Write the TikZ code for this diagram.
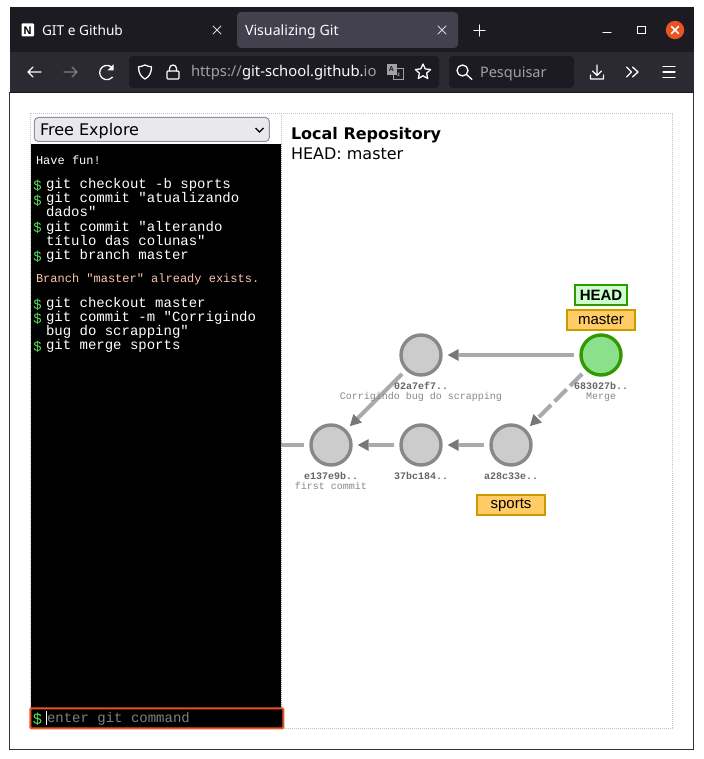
\documentclass[tikz,border=0pt]{standalone}
\usepackage{fontspec}
\setmainfont{DejaVu Sans}
\newfontfamily\uifont{Noto Sans}
\newfontfamily\lblfont{Liberation Sans}
\newfontfamily\monofont{Liberation Mono}
\usetikzlibrary{arrows.meta,shapes.geometric}
\definecolor{tabbar}{HTML}{1C1B22}
\definecolor{toolbar}{HTML}{2B2A33}
\definecolor{activetab}{HTML}{42414D}
\definecolor{uigray}{HTML}{FBFBFE}
\definecolor{urlgray}{HTML}{A0A0A6}
\definecolor{ubuntu}{HTML}{E95420}
\definecolor{selfill}{HTML}{E9E9ED}
\definecolor{selline}{HTML}{8F8F9D}
\definecolor{framedot}{HTML}{C4C4C4}
\definecolor{prompt}{HTML}{55DD55}
\definecolor{errtxt}{HTML}{FFC4B0}
\definecolor{cfill}{HTML}{CCCCCC}
\definecolor{cline}{HTML}{888888}
\definecolor{gfill}{HTML}{8CE08C}
\definecolor{gline}{HTML}{339900}
\definecolor{hfill}{HTML}{CCFFCC}
\definecolor{bfill}{HTML}{FFCC66}
\definecolor{bline}{HTML}{CC9900}
\definecolor{edgec}{HTML}{AAAAAA}
\definecolor{tipc}{HTML}{777777}
\definecolor{idc}{HTML}{666666}
\definecolor{msgc}{HTML}{888888}
\tikzset{
  txt/.style={inner sep=0pt,outer sep=0pt,anchor=base west},
  uitxt/.style={txt,text=uigray,font=\uifont\fontsize{14}{14}\selectfont},
  urltxt/.style={txt,text=uigray,font=\uifont\fontsize{14.8}{14.8}\selectfont},
  cmd/.style={txt,text=white,font=\monofont\fontsize{14}{14}\selectfont},
  dollar/.style={txt,text=prompt,font=\lblfont\fontsize{14}{14}\selectfont},
  outmsg/.style={txt,font=\monofont\fontsize{12}{12}\selectfont},
  commit/.style={circle,draw=cline,fill=cfill,line width=3.4pt,minimum size=40pt,inner sep=0pt},
  headcommit/.style={commit,draw=gline,fill=gfill},
  cid/.style={inner sep=0pt,anchor=base,text=idc,font=\monofont\bfseries\fontsize{10}{10}\selectfont},
  cmsg/.style={inner sep=0pt,anchor=base,text=msgc,font=\monofont\fontsize{10}{10}\selectfont},
  branchbox/.style={rectangle,draw=bline,fill=bfill,line width=2pt,inner sep=0pt,minimum width=68pt,minimum height=20pt,font=\lblfont\fontsize{15}{15}\selectfont},
  headbox/.style={rectangle,draw=gline,fill=hfill,line width=2pt,inner sep=0pt,minimum width=51.5pt,minimum height=20pt,font=\lblfont\bfseries\fontsize{15}{15}\selectfont},
  edge/.style={draw=edgec,line width=4pt,shorten >=5pt,shorten <=5pt,-{Triangle[length=11pt,width=12pt,color=tipc,fill=tipc,line width=0pt]}},
  icon/.style={draw=uigray,line width=1.3pt,line cap=round,line join=round},
  dimicon/.style={draw=uigray!40!toolbar,line width=1.3pt,line cap=round,line join=round},
  thinicon/.style={draw=uigray!85!tabbar,line width=0.9pt,line cap=round},
}
\begin{document}
\begin{tikzpicture}[x=1pt,y=-1pt]
\useasboundingbox (0,0) rectangle (703,759);
\fill[white] (0,0) rectangle (703,759);
% window
\fill[white] (9.5,92) rectangle (693.5,749.5);
\fill[tabbar] (9.5,7.5) rectangle (693.5,52);
\fill[toolbar] (9.5,52) rectangle (693.5,92);
\draw[black!80,line width=1pt] (9.5,92) -- (9.5,749.5) -- (693.5,749.5) -- (693.5,92);
\draw[black!90,line width=1pt] (9.5,92.5) -- (693.5,92.5);
% tabs
\fill[activetab,rounded corners=4pt] (237,12) rectangle (458,48);
\fill[white,rounded corners=1pt] (21.5,23.5) rectangle (34,36.5);
\node[txt,text=black,font=\lblfont\bfseries\fontsize{11}{11}\selectfont] (notionN) at (23.6,34.2) {N};
\node[uitxt,font=\uifont\fontsize{13.7}{13.7}\selectfont] (tabA) at (42,36) {GIT e Github};
\node[uitxt,font=\uifont\fontsize{14.2}{14.2}\selectfont] (tabB) at (245,36) {Visualizing Git};
\draw[thinicon] (213,26) -- (221,34) (213,34) -- (221,26);
\draw[thinicon] (438,26) -- (446,34) (438,34) -- (446,26);
\draw[icon] (474,30.5) -- (485,30.5) (479.5,25) -- (479.5,36);
\draw[icon] (603,32.5) -- (611,32.5);
\draw[thinicon,line cap=butt,draw=uigray,line width=1pt] (637.5,26.5) rectangle (645,33.5);
\fill[ubuntu] (675,30) circle (9.2);
\draw[icon,line width=1.5pt] (671.5,26.5) -- (678.5,33.5) (671.5,33.5) -- (678.5,26.5);
% toolbar
\fill[tabbar,rounded corners=4pt] (129,56) rectangle (439,88);
\fill[tabbar,rounded corners=4pt] (449,56) rectangle (574,88);
\draw[icon] (41,72) -- (28,72) (33,67) -- (28,72) -- (33,77);
\draw[dimicon] (64,72) -- (77,72) (72,67) -- (77,72) -- (72,77);
\draw[icon] (112,67.5) arc[start angle=-45,end angle=-320,radius=7.2];
\fill[uigray] (113.5,64.5) -- (113.5,70.5) -- (107.5,70.5) -- cycle;
\draw[icon] (145,65) .. controls (142,66.5) and (140,66.7) .. (138.5,66.7) .. controls (138.5,73) and (141,77) .. (145,79) .. controls (149,77) and (151.5,73) .. (151.5,66.7) .. controls (150,66.7) and (148,66.5) .. (145,65) -- cycle;
\draw[icon,rounded corners=1pt] (167,71) rectangle (179,79);
\draw[icon] (169.5,71) -- (169.5,68.5) arc[start angle=180,end angle=360,radius=3.5] -- (176.5,71);
\begin{scope}
\clip (185,60) rectangle (381,84);
\node[urltxt,text=urlgray] (urlA) at (191,77) {https://};
\node[urltxt,anchor=base west,text=uigray] (urlB) at (urlA.base east) {git-school.github.\textcolor{urlgray}{io}};
\end{scope}
\fill[urlgray] (387,64) rectangle (397,75);
\draw[urlgray,line width=1pt] (393,69) rectangle (403,80);
\node[inner sep=0pt,text=tabbar,font=\lblfont\bfseries\fontsize{7}{7}\selectfont] (trA) at (391.5,69.5) {A};
\node[inner sep=0pt,text=urlgray,font=\lblfont\bfseries\fontsize{6}{6}\selectfont] (trB) at (398.5,75) {z};
\node[star,star points=5,star point ratio=2.1,draw=uigray,line width=1.3pt,minimum size=16pt,inner sep=0pt,line join=round] (starIcon) at (423,72) {};
\draw[icon] (462.5,70.5) circle (5.5) (466.5,74.5) -- (472,79.5);
\node[urltxt,text=urlgray,font=\uifont\fontsize{14.5}{14.5}\selectfont] (searchTxt) at (480,78) {Pesquisar};
\draw[icon] (597,65) -- (597,75) (592.5,71) -- (597,75.5) -- (601.5,71) (590.5,75) -- (590.5,79) -- (603.5,79) -- (603.5,75);
\draw[icon] (626.5,67) -- (631.5,72) -- (626.5,77) (632.5,67) -- (638,72) -- (632.5,77);
\draw[icon] (663,66.5) -- (675,66.5) (663,72) -- (675,72) (663,77.5) -- (675,77.5);
% page frame
\draw[framedot,line width=1pt,densely dotted] (30.5,113.5) rectangle (672.5,728.5);
\draw[framedot,line width=1pt,densely dotted] (281,113.5) -- (281,144);
\node[rectangle,draw=selline,fill=selfill,rounded corners=4pt,line width=1pt,minimum width=235pt,minimum height=24pt,inner sep=0pt] (selbox) at (151.8,129.5) {};
\node[txt,text=black,font=\fontsize{16}{16}\selectfont] (seltxt) at (40,135.5) {Free Explore};
\draw[black,line width=1.2pt] (255.5,128) -- (259.5,132) -- (263.5,128);
% terminal
\fill[black] (31,144) rectangle (281,708);
\draw[black!40,line width=1pt,densely dotted] (281,144) -- (281,708);
\node[outmsg,text=white] (tHave) at (36,164.5) {Have fun!};
\node[dollar] (d1) at (33.5,191) {\$};
\node[cmd] (c1) at (46,189) {git checkout -b sports};
\node[dollar] (d2) at (33.5,205) {\$};
\node[cmd] (c2a) at (46,203) {git commit "atualizando};
\node[cmd] (c2b) at (46,217) {dados"};
\node[dollar] (d3) at (33.5,233) {\$};
\node[cmd] (c3a) at (46,231) {git commit "alterando};
\node[cmd] (c3b) at (46,245) {título das colunas"};
\node[dollar] (d4) at (33.5,261) {\$};
\node[cmd] (c4) at (46,259) {git branch master};
\node[outmsg,text=errtxt] (tBranch) at (36,282) {Branch "master" already exists.};
\node[dollar] (d5) at (33.5,309) {\$};
\node[cmd] (c5) at (46,307) {git checkout master};
\node[dollar] (d6) at (33.5,323) {\$};
\node[cmd] (c6a) at (46,321) {git commit -m "Corrigindo};
\node[cmd] (c6b) at (46,335) {bug do scrapping"};
\node[dollar] (d7) at (33.5,351) {\$};
\node[cmd] (c7) at (46,349) {git merge sports};
% input
\node[rectangle,draw=ubuntu,fill=black,line width=2pt,rounded corners=1pt,minimum width=253pt,minimum height=20pt,inner sep=0pt] (inputbox) at (156.8,718.3) {};
\node[dollar,font=\lblfont\fontsize{15.5}{15.5}\selectfont] (dIn) at (33,724.3) {\$};
\draw[white,line width=1pt] (46.5,711) -- (46.5,725);
\node[cmd,text=black!50!white] (inputTxt) at (47,722) {enter git command};
% heading
\node[txt,text=black,font=\bfseries\fontsize{16}{16}\selectfont] (hLocal) at (291,139.5) {Local Repository};
\node[txt,text=black,font=\fontsize{16}{16}\selectfont] (hHead) at (291,159.5) {HEAD: master};
% graph
\coordinate (rootin) at (281,445);
\node[commit] (e137) at (331,445) {};
\node[commit] (b37) at (421,445) {};
\node[commit] (a28) at (511,445) {};
\node[commit] (a02) at (421,355) {};
\node[headcommit] (m68) at (601,355) {};
\draw[edgec,line width=4pt] (rootin) -- ([xshift=-5pt]e137.west);
\draw[edge] (b37) -- (e137);
\draw[edge] (a28) -- (b37);
\draw[edge] (a02) -- (e137);
\draw[edge] (m68) -- (a02);
\draw[edge,dash pattern=on 17pt off 5pt] (m68) -- (a28);
\node[cid] (idA) at (421,389) {02a7ef7..};
\node[cmsg] (msgA) at (421,399) {Corrigindo bug do scrapping};
\node[cid] (idM) at (601,389) {683027b..};
\node[cmsg] (msgM) at (601,399) {Merge};
\node[cid] (idE) at (331,479) {e137e9b..};
\node[cmsg] (msgE) at (331,489) {first commit};
\node[cid] (idB) at (421,479) {37bc184..};
\node[cid] (idC) at (511,479) {a28c33e..};
\node[headbox] (headL) at (601,295) {HEAD};
\node[branchbox] (masterL) at (601,320) {master};
\node[branchbox] (sportsL) at (511,505) {sports};
\end{tikzpicture}
\end{document}
